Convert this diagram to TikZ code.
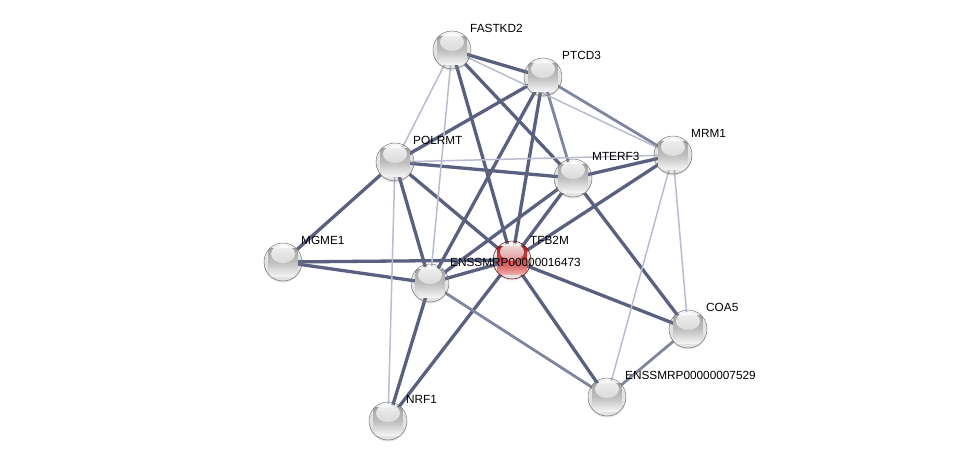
\documentclass[tikz,border=0pt]{standalone}
\usepackage{fontspec}
\setmainfont{Liberation Sans}
\usetikzlibrary{calc,shadows,fadings}
\definecolor{g0}{RGB}{244,244,244}
\definecolor{g1}{RGB}{222,222,222}
\definecolor{g2}{RGB}{190,190,190}
\definecolor{g3}{RGB}{176,176,176}
\definecolor{g4}{RGB}{160,160,160}
\definecolor{r0}{RGB}{240,172,172}
\definecolor{r1}{RGB}{226,124,124}
\definecolor{r2}{RGB}{204,72,72}
\definecolor{r3}{RGB}{188,50,50}
\definecolor{r4}{RGB}{168,34,34}
\pgfdeclareverticalshading{sphgrey}{38bp}{color(0bp)=(g0); color(8bp)=(g1); color(19bp)=(g2); color(30bp)=(g3); color(38bp)=(g4)}
\pgfdeclareverticalshading{sphred}{38bp}{color(0bp)=(r0); color(8bp)=(r1); color(19bp)=(r2); color(30bp)=(r3); color(38bp)=(r4)}
\tikzfading[name=hlfade, top color=transparent!5, bottom color=transparent!100]
\begin{document}
\begin{tikzpicture}[x=1pt,y=-1pt,
  ball/.style={circle,minimum size=38pt,inner sep=0pt,line width=0.5pt,
    drop shadow={opacity=0.22,shadow xshift=0pt,shadow yshift=-1.5pt},
    path picture={\fill[white,path fading=hlfade] ($(path picture bounding box.center)+(0,-8)$) ellipse (12 and 9);}},
  prot/.style={ball,draw=black!55,shading=sphgrey},
  query/.style={ball,draw=red!40!black,shading=sphred},
  lbl/.style={anchor=west,inner sep=0pt,font=\fontsize{11.8}{13}\selectfont,text height=8.5pt,text depth=0pt},
  strong/.style={draw=ecol,line width=3.3pt},
  mid/.style={draw=mcol,line width=2.8pt},
  weak/.style={draw=wcol,line width=1.5pt}]
\definecolor{ecol}{RGB}{90,97,128}
\definecolor{mcol}{RGB}{128,134,160}
\definecolor{wcol}{RGB}{184,188,206}
\useasboundingbox (0,0) rectangle (975,466);
\fill[white] (0,0) rectangle (975,466);
% node coordinates
\coordinate (FA) at (452,50);
\coordinate (PT) at (543,77);
\coordinate (PO) at (395,162);
\coordinate (MT) at (573,178);
\coordinate (MR) at (673,155);
\coordinate (MG) at (283,262);
\coordinate (EA) at (430,283);
\coordinate (TF) at (512,260);
\coordinate (CO) at (688,329);
\coordinate (EB) at (607,397);
\coordinate (NR) at (388,421);
% edges
\foreach \a/\b in {FA/PT,FA/TF,FA/MT,PT/TF,PT/EA,PO/MT,PO/MG,PO/TF,PO/EA,MT/MR,MT/TF,MT/EA,MT/CO,MG/TF,MG/EA,TF/EA,TF/CO,TF/EB,TF/NR,EA/NR,MR/TF,PT/PO}
  \draw[strong] (\a) -- (\b);
\foreach \a/\b in {PT/MT,PT/MR,CO/EB,EA/EB}
  \draw[mid] (\a) -- (\b);
\foreach \a/\b in {FA/MR,FA/PO,FA/EA,PO/MR,PO/NR,MR/CO,MR/EB}
  \draw[weak] (\a) -- (\b);
% nodes
\node[prot] (nFA) at (FA) {};
\node[prot] (nPT) at (PT) {};
\node[prot] (nPO) at (PO) {};
\node[prot] (nMT) at (MT) {};
\node[prot] (nMR) at (MR) {};
\node[prot] (nMG) at (MG) {};
\node[prot] (nEA) at (EA) {};
\node[query] (nTF) at (TF) {};
\node[prot] (nCO) at (CO) {};
\node[prot] (nEB) at (EB) {};
\node[prot] (nNR) at (NR) {};
% labels
\node[lbl] (lFA) at ($(FA)+(18,-22)$) {FASTKD2};
\node[lbl] (lPT) at ($(PT)+(19,-22)$) {PTCD3};
\node[lbl] (lPO) at ($(PO)+(18,-22)$) {POLRMT};
\node[lbl] (lMT) at ($(MT)+(19,-22)$) {MTERF3};
\node[lbl] (lMR) at ($(MR)+(18,-22)$) {MRM1};
\node[lbl] (lMG) at ($(MG)+(18,-22)$) {MGME1};
\node[lbl] (lTF) at ($(TF)+(18,-20)$) {TFB2M};
\node[lbl] (lEA) at ($(EA)+(20,-21)$) {ENSSMRP00000016473};
\node[lbl] (lCO) at ($(CO)+(18,-22)$) {COA5};
\node[lbl] (lEB) at ($(EB)+(18,-22)$) {ENSSMRP00000007529};
\node[lbl] (lNR) at ($(NR)+(18,-22)$) {NRF1};
\end{tikzpicture}
\end{document}
